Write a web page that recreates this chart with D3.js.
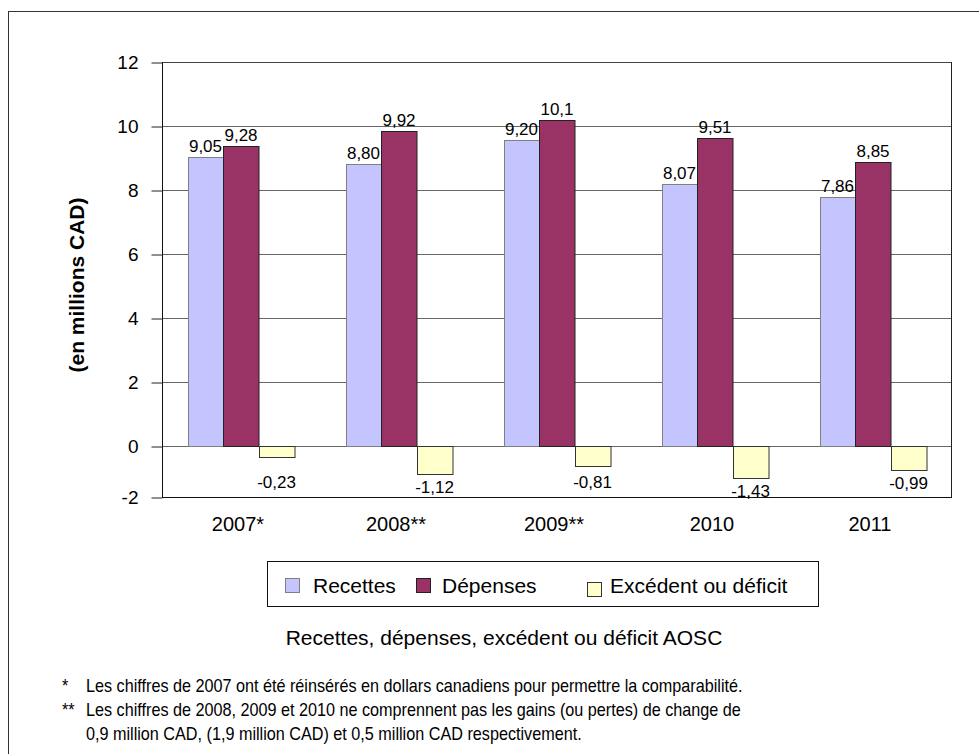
<!DOCTYPE html>
<html>
<head>
<meta charset="utf-8">
<script src="https://cdn.jsdelivr.net/npm/d3@7"></script>
<style>
  body { margin: 0; background: #fff; }
  text { font-family: "Liberation Sans", Arial, sans-serif; fill: #000; }
</style>
</head>
<body>
<div class="canvas"></div>
<script>
// chart data
const years = ['2007*', '2008**', '2009**', '2010', '2011'];
const series = ['Recettes', 'Dépenses', 'Excédent ou déficit'];
const recettes = [9.03, 8.81, 9.55, 8.19, 7.77];
const depenses = [9.39, 9.85, 10.2, 9.64, 8.88];
const excedent = [-0.44, -1.08, -0.77, -1.26, -0.93];
// the printed data labels
const recettesLabels = ['9,05', '8,80', '9,20', '8,07', '7,86'];
const depensesLabels = ['9,28', '9,92', '10,1', '9,51', '8,85'];
const excedentLabels = ['-0,23', '-1,12', '-0,81', '-1,43', '-0,99'];
const yTicks = [-2, 0, 2, 4, 6, 8, 10, 12];
const notes = [
  ['*', 'Les chiffres de 2007 ont été réinsérés en dollars canadiens pour permettre la comparabilité.'],
  ['**', 'Les chiffres de 2008, 2009 et 2010 ne comprennent pas les gains (ou pertes) de change de'],
  ['', '0,9 million CAD, (1,9 million CAD) et 0,5 million CAD respectivement.']
];

const colors = ['#c4c4ff', '#993366', '#ffffcc'];
const strokes = ['#808080', '#222', '#333'];

const svg = d3.select('.canvas')
  .append('svg')
  .attr('width', 979)
  .attr('height', 754);

// outer frame (runs off the right and bottom of the picture)
svg.append('rect')
  .attr('x', 8.5).attr('y', 11.5)
  .attr('width', 1100).attr('height', 1100)
  .attr('fill', 'none').attr('stroke', '#333');

const plot = { left: 162, right: 952, top: 62, bottom: 497 };

// the negative part of the axis is squeezed in the original
const y = d3.scaleLinear()
  .domain([-2, 0, 12])
  .range([plot.bottom, 446, plot.top]);

const x0 = d3.scaleBand()
  .domain(years)
  .range([plot.left, plot.right]);

const x1 = d3.scaleBand()
  .domain(series)
  .range([0, x0.bandwidth()])
  .paddingInner(0)
  .paddingOuter(0.725);

// gridlines
svg.append('g')
  .selectAll('line')
  .data(yTicks.filter(d => d >= 0))
  .enter().append('line')
  .attr('x1', plot.left).attr('x2', plot.right)
  .attr('y1', d => y(d) + 0.5)
  .attr('y2', d => y(d) + 0.5)
  .attr('stroke', d => d === 12 ? '#444' : '#666');

// y axis
const yAxis = d3.axisLeft(y)
  .tickValues(yTicks)
  .tickSize(11)
  .tickPadding(13)
  .tickFormat(d => d);

const yAxisGroup = svg.append('g')
  .attr('transform', `translate(${plot.left + 0.5}, 0.5)`)
  .call(yAxis);
yAxisGroup.select('.domain').remove();
yAxisGroup.selectAll('.tick line').attr('stroke', '#222');
yAxisGroup.selectAll('text')
  .style('font-family', '"Liberation Sans", Arial, sans-serif')
  .style('font-size', '19px')
  .attr('fill', '#000');

// plot border lines
svg.append('line')
  .attr('x1', plot.left + 0.5).attr('x2', plot.left + 0.5)
  .attr('y1', plot.top).attr('y2', plot.bottom + 1)
  .attr('stroke', '#111');
svg.append('line')
  .attr('x1', plot.right - 0.5).attr('x2', plot.right - 0.5)
  .attr('y1', plot.top).attr('y2', plot.bottom + 1)
  .attr('stroke', '#222');
svg.append('line')
  .attr('x1', plot.left).attr('x2', plot.right)
  .attr('y1', plot.bottom + 0.5).attr('y2', plot.bottom + 0.5)
  .attr('stroke', '#111');

// bars
const rows = years.map((yr, i) => ({
  year: yr,
  vals: [recettes[i], depenses[i], excedent[i]],
  labels: [recettesLabels[i], depensesLabels[i], excedentLabels[i]]
}));

const groups = svg.append('g')
  .selectAll('g')
  .data(rows)
  .enter().append('g')
  .attr('transform', d => `translate(${x0(d.year)}, 0)`);

groups.selectAll('rect')
  .data(d => d.vals.map((v, j) => ({ key: series[j], v, j })))
  .enter().append('rect')
  .attr('x', d => Math.round(x1(d.key)) + 0.5)
  .attr('width', x1.bandwidth())
  .attr('y', d => Math.round(y(Math.max(0, d.v))) + 0.5)
  .attr('height', d => Math.round(Math.abs(y(d.v) - y(0))))
  .attr('fill', d => colors[d.j])
  .attr('stroke', d => strokes[d.j]);

groups.selectAll('text.lbl')
  .data(d => d.vals.map((v, j) => ({ key: series[j], v, j, label: d.labels[j] })))
  .enter().append('text')
  .attr('class', 'lbl')
  .attr('x', d => x1(d.key) + x1.bandwidth() / 2)
  .attr('y', d => d.v >= 0 ? y(d.v) - 5 : Math.max(488, y(d.v) + 19))
  .attr('text-anchor', 'middle')
  .style('font-size', '17px')
  .text(d => d.label);

// x labels
svg.append('g')
  .selectAll('text')
  .data(years)
  .enter().append('text')
  .attr('x', d => x0(d) + x0.bandwidth() / 2 - 3)
  .attr('y', 531)
  .attr('text-anchor', 'middle')
  .style('font-size', '20px')
  .text(d => d);

// y title
svg.append('text')
  .attr('transform', 'translate(84, 285) rotate(-90)')
  .attr('text-anchor', 'middle')
  .style('font-size', '21px')
  .style('font-weight', 'bold')
  .text('(en millions CAD)');

// legend
const legendBox = { x: 267.5, y: 561.5, w: 551, h: 45 };
const legendX = [285, 416, 587];
const legendTextX = [28, 26, 23];
const legendDy = [0, 0, 4];
const legend = svg.append('g');
legend.append('rect')
  .attr('x', legendBox.x).attr('y', legendBox.y)
  .attr('width', legendBox.w).attr('height', legendBox.h)
  .attr('fill', '#fff').attr('stroke', '#111');
const items = legend.selectAll('g')
  .data(series)
  .enter().append('g')
  .attr('transform', (d, i) => `translate(${legendX[i]}, 578)`);
items.append('rect')
  .attr('x', 0.5).attr('y', (d, i) => legendDy[i] + 0.5)
  .attr('width', 14).attr('height', 14)
  .attr('fill', (d, i) => colors[i])
  .attr('stroke', (d, i) => strokes[i]);
items.append('text')
  .attr('x', (d, i) => legendTextX[i])
  .attr('y', 15)
  .style('font-size', '21px')
  .text(d => d);

// title
svg.append('text')
  .attr('x', 504)
  .attr('y', 645)
  .attr('text-anchor', 'middle')
  .style('font-size', '21px')
  .text('Recettes, dépenses, excédent ou déficit AOSC');

// footnotes, squeezed to look like a narrow face
const noteG = svg.append('g');
notes.forEach((n, i) => {
  const yy = 692 + i * 24;
  noteG.append('text')
    .attr('transform', `translate(62, ${yy}) scale(0.9, 1)`)
    .style('font-size', '18px')
    .text(n[0]);
  noteG.append('text')
    .attr('transform', `translate(86, ${yy}) scale(0.9, 1)`)
    .style('font-size', '18px')
    .text(n[1]);
});
</script>
</body>
</html>
